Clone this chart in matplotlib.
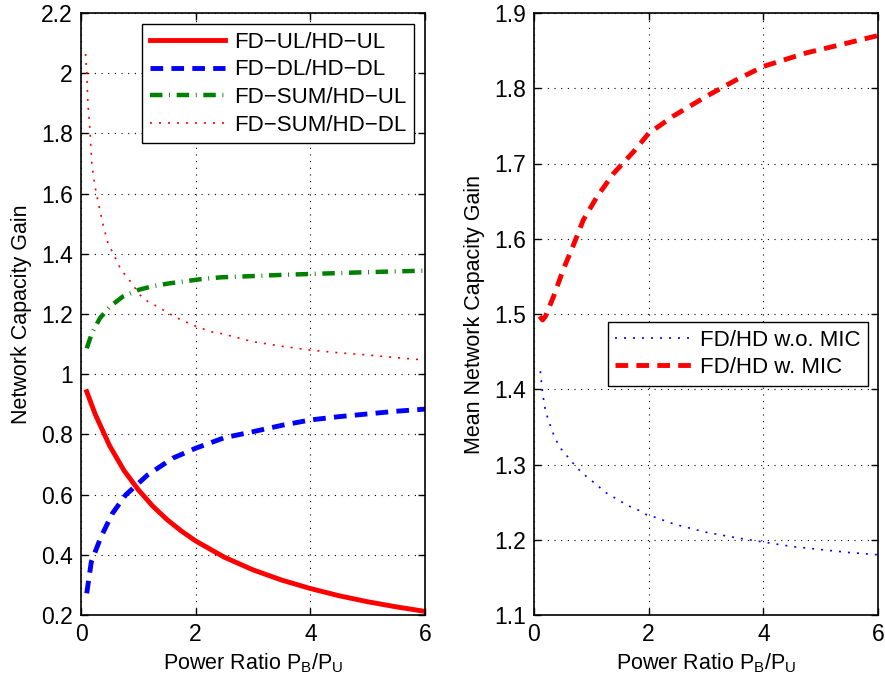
import numpy as np
import matplotlib
matplotlib.use("Agg")
import matplotlib.pyplot as plt
from matplotlib.ticker import FormatStrFormatter

plt.rcParams['font.family'] = ['Liberation Sans', 'DejaVu Sans']
plt.rcParams['mathtext.fontset'] = 'custom'
plt.rcParams['mathtext.rm'] = 'Liberation Sans'

# --- left panel data ---
x_ul = [0.1, 0.25, 0.5, 0.75, 1.0, 1.25, 1.5, 1.75, 2.0, 2.5, 3.0, 3.5, 4.0, 4.5, 5.0, 5.5, 6.0]
ul_ul = [0.942, 0.866, 0.762, 0.68, 0.616, 0.562, 0.517, 0.479, 0.446, 0.392, 0.35, 0.316, 0.288, 0.264, 0.244, 0.227, 0.212]

x_dl = [0.1, 0.18, 0.35, 0.55, 0.78, 1.16, 1.6, 2.0, 2.5, 3.0, 3.5, 4.0, 4.5, 5.0, 5.5, 6.0]
dl_dl = [0.272, 0.377, 0.46, 0.538, 0.599, 0.665, 0.721, 0.754, 0.789, 0.809, 0.83, 0.848, 0.859, 0.868, 0.877, 0.884]

x_sum_ul = [0.1, 0.19, 0.33, 0.5, 0.73, 1.0, 1.26, 1.55, 2.1, 2.45, 3.0, 3.5, 4.0, 5.0, 6.0]
sum_ul = [1.086, 1.136, 1.186, 1.224, 1.258, 1.28, 1.293, 1.302, 1.316, 1.322, 1.326, 1.33, 1.333, 1.339, 1.344]

x_sum_dl = [0.08, 0.1, 0.12, 0.15, 0.17, 0.19, 0.24, 0.31, 0.38, 0.47, 0.56, 0.7, 0.82, 1.03, 1.17,
            1.34, 1.63, 1.95, 2.27, 2.45, 3.0, 3.5, 4.0, 4.5, 5.0, 5.5, 6.0]
sum_dl = [2.064, 2.0, 1.90, 1.828, 1.761, 1.695, 1.628, 1.562, 1.501, 1.435, 1.402, 1.346, 1.319, 1.263, 1.241,
          1.224, 1.191, 1.163, 1.141, 1.135, 1.108, 1.093, 1.08, 1.071, 1.064, 1.055, 1.047]

# --- right panel data ---
x_with = [0.1, 0.15, 0.2, 0.34, 0.51, 0.69, 0.86, 1.1, 1.39, 1.74, 2.0, 2.43, 3.0, 3.5, 4.0, 4.75, 5.3, 6.0]
with_mic = [1.497, 1.492, 1.497, 1.523, 1.559, 1.592, 1.625, 1.656, 1.687, 1.716, 1.74, 1.763, 1.789, 1.81, 1.829, 1.847, 1.857, 1.87]

x_without = [0.11, 0.15, 0.2, 0.26, 0.32, 0.38, 0.47, 0.58, 0.7, 0.81, 0.96, 1.1, 1.22, 1.36, 1.51, 1.68,
             1.83, 1.97, 2.15, 2.32, 2.48, 3.0, 3.5, 4.0, 4.5, 5.0, 5.5, 6.0]
without_mic = [1.424, 1.395, 1.371, 1.357, 1.344, 1.333, 1.321, 1.311, 1.30, 1.291, 1.281, 1.273, 1.264, 1.258,
               1.251, 1.244, 1.239, 1.233, 1.229, 1.224, 1.22, 1.21, 1.203, 1.197, 1.191, 1.187, 1.183, 1.18]

fig = plt.figure(figsize=(8.85, 6.84), dpi=100)
ax1 = fig.add_axes([81/885, 69/684, 344/885, 602/684])
ax2 = fig.add_axes([534/885, 69/684, 344/885, 602/684])

ax1.plot(x_ul, ul_ul, '-', color='red', lw=3.5, label='FD\u2212UL/HD\u2212UL')
ax1.plot(x_dl, dl_dl, '--', color='blue', lw=3.5, dashes=(2.6, 1.7), label='FD\u2212DL/HD\u2212DL')
ax1.plot(x_sum_ul, sum_ul, '-.', color='green', lw=3.2, dashes=(2.8, 1.5, 0.2, 1.5), label='FD\u2212SUM/HD\u2212UL')
ax1.plot(x_sum_dl, sum_dl, ':', color='red', lw=1.2, dashes=(1.2, 4.2), label='FD\u2212SUM/HD\u2212DL')
ax1.set_xlim(0, 6)
ax1.set_ylim(0.2, 2.2)
ax1.set_yticks(np.arange(0.2, 2.21, 0.2))
ax1.set_ylabel('Network Capacity Gain', fontsize=15.5, labelpad=6)

ax2.plot(x_without, without_mic, ':', color='blue', lw=1.2, dashes=(1.2, 4.2), label='FD/HD w.o. MIC')
ax2.plot(x_with, with_mic, '--', color='red', lw=3.5, dashes=(2.6, 1.7), label='FD/HD w. MIC')
ax2.set_xlim(0, 6)
ax2.set_ylim(1.1, 1.9)
ax2.set_yticks(np.arange(1.1, 1.91, 0.1))
ax2.set_ylabel('Mean Network Capacity Gain', fontsize=15.5, labelpad=6)

for ax in (ax1, ax2):
    ax.set_xticks([0, 2, 4, 6])
    ax.yaxis.set_major_formatter(FormatStrFormatter('%g'))
    ax.set_xlabel(r'Power Ratio P$_\mathregular{B}$/P$_\mathregular{U}$', fontsize=15.5, labelpad=4)
    ax.tick_params(direction='in', top=True, right=True, labelsize=16.5, length=5, width=1, pad=6)
    ax.grid(True, color='black', linestyle=(0, (1, 5)), linewidth=0.8)
    for s in ax.spines.values():
        s.set_linewidth(1.2)

leg1 = ax1.legend(loc='upper right', bbox_to_anchor=(0.968, 0.982), fontsize=16, handlelength=3.4,
                  fancybox=False, edgecolor='black', framealpha=1, borderpad=0.35, labelspacing=0.3,
                  handletextpad=0.4, borderaxespad=0)
leg1.get_frame().set_linewidth(1.0)
leg2 = ax2.legend(loc='upper right', bbox_to_anchor=(0.971, 0.487), fontsize=16, handlelength=3.4,
                  fancybox=False, edgecolor='black', framealpha=1, borderpad=0.35, labelspacing=0.3,
                  handletextpad=0.4, borderaxespad=0)
leg2.get_frame().set_linewidth(1.0)

fig.savefig('out.png', dpi=100)
